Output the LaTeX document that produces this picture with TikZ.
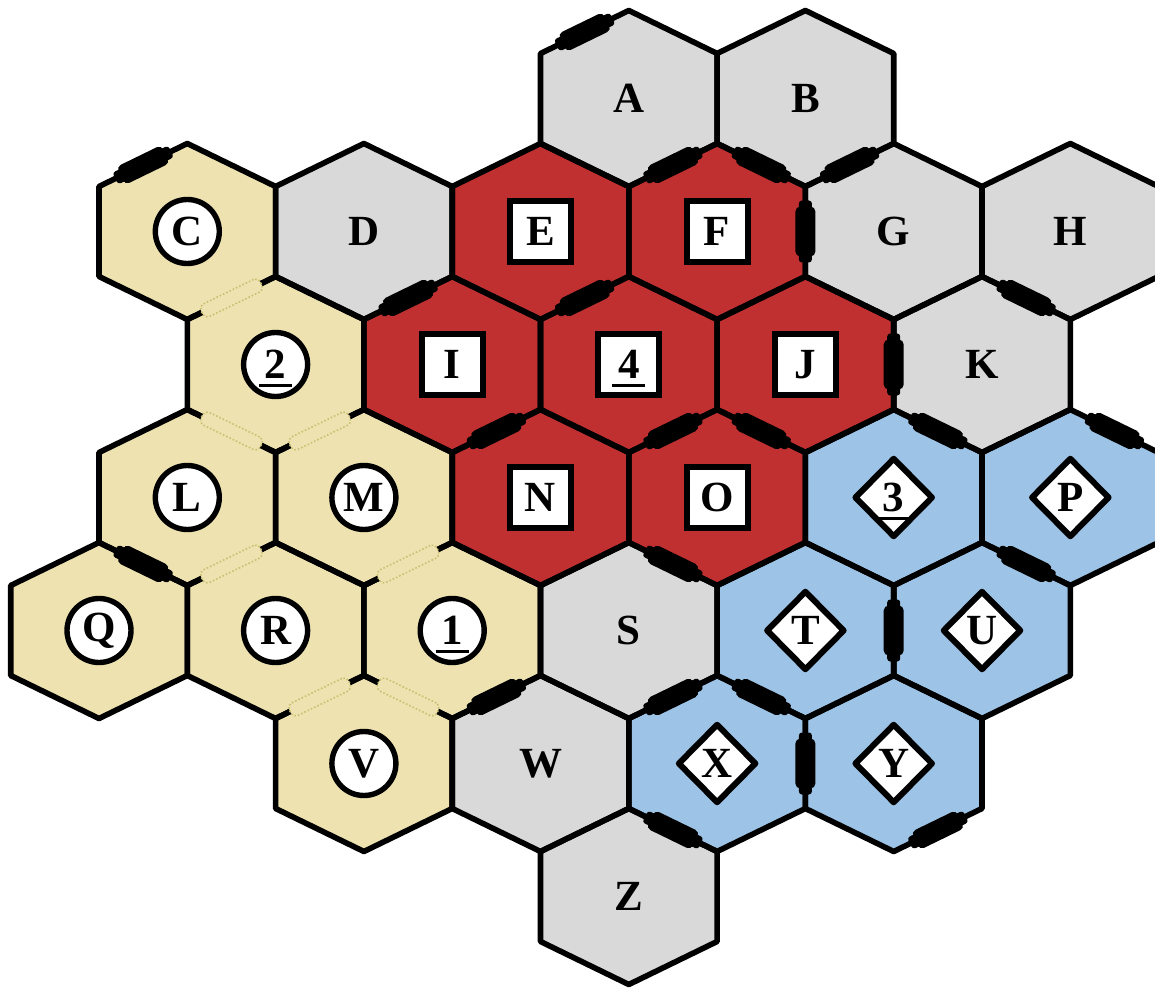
\documentclass[tikz,border=0pt]{standalone}
\usepackage{fontspec}
\setmainfont{Liberation Serif}
\usetikzlibrary{shapes.geometric}

\definecolor{hexgray}{HTML}{D9D9D9}
\definecolor{hexred}{HTML}{C03030}
\definecolor{hexsand}{HTML}{EEE3B0}
\definecolor{hexblue}{HTML}{9DC3E6}
\definecolor{passline}{HTML}{C9BF72}

\newsavebox\numbox
\newcommand\ulnum[1]{\sbox\numbox{#1}\smash{\rlap{\kern-2.8pt\raisebox{-4.2pt}{\rule{\dimexpr\wd\numbox+5.6pt\relax}{1.4pt}}}}\usebox\numbox}

\begin{document}
\begin{tikzpicture}[x=0.5pt, y=-0.5pt,
    hexline/.style={draw=black, line width=2.8pt, line join=round},
    lbl/.style={font=\bfseries\fontsize{21.5}{25}\selectfont, inner sep=0pt},
    sqlbl/.style={lbl, draw, line width=3pt, fill=white, minimum size=30.5pt},
    cirlbl/.style={lbl, circle, draw, line width=2.7pt, fill=white, minimum size=32pt},
    dialbl/.style={lbl, diamond, draw, line width=3pt, fill=white, minimum width=39.5pt, minimum height=40pt, line join=round},
    wallneck/.style={sloped, rectangle, fill=black, inner sep=0pt, minimum width=31pt, minimum height=6.5pt, rounded corners=1.5pt},
    wallbar/.style={sloped, rectangle, fill=black, inner sep=0pt, minimum width=25pt, minimum height=10pt, rounded corners=2.5pt},
    passage/.style={sloped, rectangle, fill=hexsand, draw=passline, densely dotted, line width=0.8pt, inner sep=0pt, minimum width=33pt, minimum height=7pt, rounded corners=2.5pt}]

    \useasboundingbox (0,0) rectangle (1155,989);
    \clip (0,0) rectangle (1155,989);

    % hex fields
    \foreach \n/\k/\r/\c in {A/6/0/hexgray, B/8/0/hexgray,
        C/1/1/hexsand, D/3/1/hexgray, E/5/1/hexred, F/7/1/hexred, G/9/1/hexgray, H/11/1/hexgray,
        2/2/2/hexsand, I/4/2/hexred, 4/6/2/hexred, J/8/2/hexred, K/10/2/hexgray,
        L/1/3/hexsand, M/3/3/hexsand, N/5/3/hexred, O/7/3/hexred, 3/9/3/hexblue, P/11/3/hexblue,
        Q/0/4/hexsand, R/2/4/hexsand, 1/4/4/hexsand, S/6/4/hexgray, T/8/4/hexblue, U/10/4/hexblue,
        V/3/5/hexsand, W/5/5/hexgray, X/7/5/hexblue, Y/9/5/hexblue,
        Z/6/6/hexgray}{
        \begin{scope}[shift={({99+88.3*\k},{98.5+133*\r})}]
            \coordinate (h\n) at (0,0);
            \fill[\c] (0,-88) coordinate (h\n-1) -- (88.3,-45) coordinate (h\n-2)
                -- (88.3,45) coordinate (h\n-3) -- (0,88) coordinate (h\n-4)
                -- (-88.3,45) coordinate (h\n-5) -- (-88.3,-45) coordinate (h\n-6) -- cycle;
        \end{scope}
    }

    \foreach \n in {A,B,C,D,E,F,G,H,2,I,4,J,K,L,M,N,O,3,P,Q,R,1,S,T,U,V,W,X,Y,Z}
        \draw[hexline] (h\n-1) -- (h\n-2) -- (h\n-3) -- (h\n-4) -- (h\n-5) -- (h\n-6) -- cycle;

    % walls
    \foreach \p/\q [count=\i] in {hA-6/hA-1, hC-6/hC-1, hF-6/hF-1, hF-1/hF-2, hG-6/hG-1,
        hF-2/hF-3, hI-6/hI-1, h4-6/h4-1, hK-1/hK-2, hJ-2/hJ-3, hN-6/hN-1, hO-6/hO-1,
        hO-1/hO-2, h3-1/h3-2, hP-1/hP-2, hO-4/hO-5, hU-1/hU-2, hT-2/hT-3, hW-6/hW-1,
        hX-6/hX-1, hX-1/hX-2, hX-2/hX-3, hZ-1/hZ-2, hY-3/hY-4, hQ-1/hQ-2}
        \path (\p) -- (\q) node[midway, wallneck] (wn\i) {} node[midway, wallbar] (w\i) {};

    % open borders
    \foreach \p/\q [count=\i] in {hC-3/hC-4, h2-4/h2-5, h2-3/h2-4, hL-3/hL-4,
        hM-3/hM-4, hR-3/hR-4, h1-4/h1-5}
        \path (\p) -- (\q) node[midway, passage] (o\i) {};

    % labels
    \foreach \n in {A,B,D,G,H,K,S,W,Z}
        \node[lbl] (l\n) at (h\n) {\n};
    \foreach \n in {E,F,I,J,N,O}
        \node[sqlbl] (l\n) at (h\n) {\n};
    \node[sqlbl] (l4) at (h4) {\ulnum{4}};
    \foreach \n in {C,L,M,Q,R,V}
        \node[cirlbl] (l\n) at (h\n) {\n};
    \node[cirlbl] (l2) at (h2) {\ulnum{2}};
    \node[cirlbl] (l1) at (h1) {\ulnum{1}};
    \foreach \n in {P,T,U,X,Y}
        \node[dialbl] (l\n) at (h\n) {\n};
    \node[dialbl] (l3) at (h3) {\ulnum{3}};
\end{tikzpicture}
\end{document}
